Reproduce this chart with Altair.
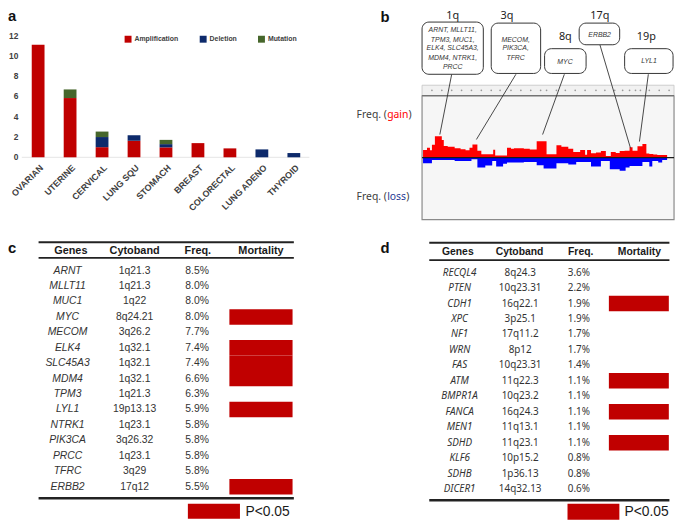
import altair as alt
import pandas as pd

# ---------------- panel a data ----------------
cancer_types = ['OVARIAN', 'UTERINE', 'CERVICAL', 'LUNG SQU', 'STOMACH', 'BREAST',
                'COLORECTAL', 'LUNG ADENO', 'THYROID']
amplification = [11.1, 5.85, 1.0, 1.63, 0.98, 1.4, 0.88, 0.0, 0.0]
deletion = [0.0, 0.0, 1.0, 0.55, 0.32, 0.0, 0.0, 0.78, 0.42]
mutation = [0.0, 0.85, 0.54, 0.0, 0.42, 0.0, 0.0, 0.0, 0.0]
alteration_types = ['Amplification', 'Deletion', 'Mutation']
alteration_colors = ['#C00000', '#0D2A6B', '#46662B']
count_ticks = [0, 2, 4, 6, 8, 10, 12]

# ---------------- panel b data (genome bin index, frequency %) ----------------
gain_start = [1, 5, 8, 10, 13, 20, 22, 26, 33, 39, 44, 48, 51, 56, 60, 72, 74, 86, 90, 93,
              103, 109, 116, 126, 136, 141, 148, 153, 160, 165, 167, 171, 176, 181, 186, 191,
              196, 200, 205, 210, 213, 218, 223, 227, 230, 234, 238]
gain_freq = [3.7, 4.8, 3.6, 6.2, 10.4, 8.6, 5.7, 5.3, 4.5, 4.1, 3.6, 4.8, 6.4, 3.3, 1.6, 3.8,
             1.1, 4.8, 4.3, 4.5, 4.3, 4.0, 7.9, 1.6, 6.0, 5.3, 4.3, 2.7, 3.7, 1.4, 3.7, 2.1,
             2.5, 3.2, 0.8, 2.7, 2.2, 3.2, 3.4, 5.0, 3.4, 5.5, 6.6, 2.0, 1.8, 1.5, 1.3]
loss_start = [1, 10, 33, 50, 56, 64, 71, 75, 82, 86, 103, 116, 123, 136, 148, 156, 171, 181,
              190, 200, 206, 210, 223, 230, 233, 239, 243]
loss_freq = [2.7, 1.1, 1.6, 0.8, 4.8, 3.8, 1.6, 4.3, 2.9, 2.4, 2.1, 3.7, 5.3, 2.7, 3.3, 2.1,
             4.3, 1.6, 5.6, 6.4, 4.8, 4.0, 2.1, 4.3, 1.6, 2.4, 1.2]
profile_end = 248
chrom_ticks = [10, 20, 30, 40, 50, 60, 70, 79, 90, 100, 110, 120, 126, 136, 145, 155, 165,
               176, 185, 195, 203, 210, 216, 221, 230, 240, 250]

callout_arm = ['1q', '3q', '8q', '17q', '19p']
callout_x = [0, 70, 124, 159, 205]
callout_x2 = [62, 120, 166, 200, 254]
callout_y = [40.4, 40.8, 40.8, 54.7, 40.8]
callout_y2 = [65.7, 65.2, 52.8, 65.2, 52.8]
callout_label_x = [31, 86, 145, 180, 227]
callout_label_y = [68.6, 68.6, 58.5, 68.6, 58.5]
callout_text_x = [31, 94.7, 144.7, 179.7, 229.7]
callout_lines = [["ARNT, MLLT11,", "TPM3, MUC1,", "ELK4, SLC45A3,", "MDM4, NTRK1,", "PRCC"],
                 ["MECOM,", "PIK3CA,", "TFRC"], ["MYC"], ["ERBB2"], ["LYL1"]]
callout_line_y = [[61.7, 57.2, 52.9, 48.5, 44.0], [57.2, 52.9, 48.5], [46.1], [59.4], [46.9]]
pointer_from_x = [30, 95, 144, 180, 229]
pointer_from_y = [40.4, 40.4, 40.4, 54.7, 40.4]
pointer_to_x = [18, 55, 122, 211, 220]
pointer_to_y = [11.2, 8.8, 11.2, 4.5, 7.8]

# ---------------- panel c / d tables ----------------
columns = ['Genes', 'Cytoband', 'Freq.', 'Mortality']
c_genes = ['ARNT', 'MLLT11', 'MUC1', 'MYC', 'MECOM', 'ELK4', 'SLC45A3', 'MDM4', 'TPM3',
           'LYL1', 'NTRK1', 'PIK3CA', 'PRCC', 'TFRC', 'ERBB2']
c_bands = ['1q21.3', '1q21.3', '1q22', '8q24.21', '3q26.2', '1q32.1', '1q32.1', '1q32.1',
           '1q21.3', '19p13.13', '1q23.1', '3q26.32', '1q23.1', '3q29', '17q12']
c_freq = [8.5, 8.0, 8.0, 8.0, 7.7, 7.4, 7.4, 6.6, 6.3, 5.9, 5.8, 5.8, 5.8, 5.8, 5.5]
c_sig = [0, 0, 0, 1, 0, 1, 1, 1, 0, 1, 0, 0, 0, 0, 1]

d_genes = ['RECQL4', 'PTEN', 'CDH1', 'XPC', 'NF1', 'WRN', 'FAS', 'ATM', 'BMPR1A', 'FANCA',
           'MEN1', 'SDHD', 'KLF6', 'SDHB', 'DICER1']
d_bands = ['8q24.3', '10q23.31', '16q22.1', '3p25.1', '17q11.2', '8p12', '10q23.31',
           '11q22.3', '10q23.2', '16q24.3', '11q13.1', '11q23.1', '10p15.2', '1p36.13',
           '14q32.13']
d_freq = [3.6, 2.2, 1.9, 1.9, 1.7, 1.7, 1.4, 1.1, 1.1, 1.1, 1.1, 1.1, 0.8, 0.8, 0.6]
d_sig = [0, 0, 1, 0, 0, 0, 0, 1, 0, 1, 0, 1, 0, 0, 0]

ARIAL = 'Liberation Sans'
NOTO = 'Noto Sans'
NARROW = 'Liberation Sans Narrow, Liberation Sans'
RED = '#C00000'

layers = []

# =============== panel a ===============
xa = alt.Scale(type='band', domain=cancer_types, range=[7.85, 311.9],
               paddingInner=0.6, paddingOuter=0.5)
ya = alt.Scale(domain=[0, 12], range=[148, 25])

rows = []
for i, c in enumerate(cancer_types):
    for k, (t, v) in enumerate(zip(alteration_types, [amplification[i], deletion[i], mutation[i]])):
        if v > 0:
            rows.append({'cancer': c, 'type': t, 'value': v, 'ord': k})
bar_df = pd.DataFrame(rows)

layers.append(alt.Chart(pd.DataFrame({'v': [0]})).mark_rule(color='#e4e4e4', strokeWidth=1).encode(
    x=alt.value(14), x2=alt.value(305), y=alt.Y('v:Q', scale=ya, axis=None)))

layers.append(alt.Chart(bar_df).mark_bar().encode(
    x=alt.X('cancer:N', scale=xa, axis=None),
    y=alt.Y('value:Q', scale=ya, axis=None, stack='zero'),
    color=alt.Color('type:N', scale=alt.Scale(domain=alteration_types, range=alteration_colors),
                    legend=alt.Legend(orient='none', legendX=118, legendY=25, direction='horizontal',
                                      title=None, symbolType='square', symbolSize=49,
                                      symbolStrokeWidth=0, labelFont=ARIAL, labelFontSize=7,
                                      labelFontWeight='bold', labelColor='#404040',
                                      columnPadding=21, labelOffset=3, padding=0)),
    order=alt.Order('ord:Q', sort='ascending')))

layers.append(alt.Chart(pd.DataFrame({'v': count_ticks})).mark_text(
    align='right', baseline='middle', font=ARIAL, fontSize=8.5, fontWeight='bold', color='#404040').encode(
    x=alt.value(10.5), y=alt.Y('v:Q', scale=ya, axis=None), text='v:Q'))

layers.append(alt.Chart(pd.DataFrame({'cancer': cancer_types, 'base': [0] * 9})).mark_text(
    angle=315, align='right', baseline='middle', dx=-4, dy=9, font=ARIAL, fontSize=9,
    fontWeight='bold', color='#404040').encode(
    x=alt.X('cancer:N', scale=xa, axis=None, bandPosition=0.5),
    y=alt.Y('base:Q', scale=ya, axis=None), text='cancer:N'))

# =============== panel b ===============
xb = alt.Scale(domain=[0, 255], range=[419, 674])
yb = alt.Scale(domain=[-30, 30], range=[211, 85.7])


def bx(f):
    return alt.X(f, scale=xb, axis=None)


def by(f):
    return alt.Y(f, scale=yb, axis=None)


frame_df = pd.DataFrame({'x': [0], 'x2': [255], 'y': [-30], 'y2': [30]})
layers.append(alt.Chart(frame_df).mark_rect(fill='#f6f6f6', stroke='#8a8a8a', strokeWidth=1.2).encode(
    x=bx('x:Q'), x2='x2:Q', y=by('y:Q'), y2='y2:Q'))
band_df = pd.DataFrame({'x': [0], 'x2': [255], 'y': [30], 'y2': [35.1]})
layers.append(alt.Chart(band_df).mark_rect(fill='#f1f1f1', stroke='#c4c4c4', strokeWidth=0.8).encode(
    x=bx('x:Q'), x2='x2:Q', y=by('y:Q'), y2='y2:Q'))
layers.append(alt.Chart(pd.DataFrame({'x': chrom_ticks, 'y': [32.6] * len(chrom_ticks)})).mark_point(
    filled=True, size=3, color='#9a9a9a', opacity=1).encode(x=bx('x:Q'), y=by('y:Q')))
layers.append(alt.Chart(pd.DataFrame({'x': [0], 'x2': [255], 'y': [30]})).mark_rule(
    color='#555555', strokeWidth=1.2).encode(x=bx('x:Q'), x2='x2:Q', y=by('y:Q')))

gain_df = pd.DataFrame({'x': gain_start + [profile_end], 'v': gain_freq + [gain_freq[-1]]})
loss_df = pd.DataFrame({'x': loss_start + [profile_end], 'v': [-v for v in loss_freq] + [-loss_freq[-1]]})
layers.append(alt.Chart(gain_df).mark_area(interpolate='step-after', color='#FF0000').encode(
    x=bx('x:Q'), y=by('v:Q'), y2=alt.datum(0)))
layers.append(alt.Chart(loss_df).mark_area(interpolate='step-after', color='#0000FF').encode(
    x=bx('x:Q'), y=by('v:Q'), y2=alt.datum(0)))
layers.append(alt.Chart(pd.DataFrame({'x': [0], 'x2': [255], 'y': [0]})).mark_rule(
    color='#1a1a1a', strokeWidth=1.2).encode(x=bx('x:Q'), x2='x2:Q', y=by('y:Q')))

# pointers
ptr_df = pd.DataFrame({'x': pointer_from_x, 'y': pointer_from_y, 'x2': pointer_to_x, 'y2': pointer_to_y})
layers.append(alt.Chart(ptr_df).mark_rule(color='#333333', strokeWidth=0.9).encode(
    x=bx('x:Q'), y=by('y:Q'), x2='x2:Q', y2='y2:Q'))
# boxes
box_df = pd.DataFrame({'x': callout_x, 'x2': callout_x2, 'y': callout_y, 'y2': callout_y2})
layers.append(alt.Chart(box_df).mark_rect(fill='white', stroke='#333333', strokeWidth=1,
                                          cornerRadius=7).encode(
    x=bx('x:Q'), x2='x2:Q', y=by('y:Q'), y2='y2:Q'))
layers.append(alt.Chart(pd.DataFrame({'x': callout_label_x, 'y': callout_label_y, 't': callout_arm})).mark_text(
    font=NOTO, fontSize=11, color='#222222', baseline='middle').encode(
    x=bx('x:Q'), y=by('y:Q'), text='t:N'))
gl = []
for i in range(len(callout_arm)):
    for t, yv in zip(callout_lines[i], callout_line_y[i]):
        gl.append({'x': callout_text_x[i], 'y': yv, 't': t})
layers.append(alt.Chart(pd.DataFrame(gl)).mark_text(
    font=NARROW, fontSize=7, fontStyle='italic', color='#333333', baseline='middle').encode(
    x=bx('x:Q'), y=by('y:Q'), text='t:N'))

# side labels
side_df = pd.DataFrame({
    't': ['Freq. (', 'gain', ')', 'Freq. (', 'loss', ')'],
    'x': [-35.6, -35.3, -13.6, -35.6, -35.3, -16.0],
    'y': [20.6, 20.6, 20.6, -19.3, -19.3, -19.3],
    'a': ['right', 'left', 'left', 'right', 'left', 'left'],
    'c': ['#404040', '#FF0000', '#404040', '#404040', '#1F3A93', '#404040']})
for al in ['right', 'left']:
    layers.append(alt.Chart(side_df[side_df.a == al]).mark_text(
        font=NOTO, fontSize=10.5, baseline='middle', align=al).encode(
        x=bx('x:Q'), y=by('y:Q'), text='t:N', color=alt.Color('c:N', scale=None)))


# =============== tables ===============
def table(genes, bands, freqs, sig, xrange, yrange, col_x, head_x, head_y, top_y, under_y,
          bottom_y, left, right, mort_x, leg_x, leg_y, leg_tx, leg_ty, body_font, body_size,
          head_size):
    xs = alt.Scale(domain=[0, 3], range=xrange)
    ys = alt.Scale(domain=[0, 14], range=yrange)
    X = lambda f: alt.X(f, scale=xs, axis=None)
    Y = lambda f: alt.Y(f, scale=ys, axis=None)
    out = []
    n = len(genes)
    # mortality bars
    sig_rows = [i for i in range(n) if sig[i]]
    out.append(alt.Chart(pd.DataFrame({'x': [mort_x[0]] * len(sig_rows), 'x2': [mort_x[1]] * len(sig_rows),
                                       'y': [r - 0.5 for r in sig_rows], 'y2': [r + 0.5 for r in sig_rows]}))
               .mark_rect(color=RED).encode(x=X('x:Q'), x2='x2:Q', y=Y('y:Q'), y2='y2:Q'))
    # lines
    lines = pd.DataFrame({'x': [left] * 3, 'x2': [right] * 3, 'y': [top_y, under_y, bottom_y],
                          'w': [2.0, 1.8, 2.6]})
    for _, r in lines.iterrows():
        out.append(alt.Chart(pd.DataFrame([r])).mark_rule(color='#222222', strokeWidth=float(r.w)).encode(
            x=X('x:Q'), x2='x2:Q', y=Y('y:Q')))
    # header
    out.append(alt.Chart(pd.DataFrame({'x': head_x, 'y': [head_y] * 4, 't': columns})).mark_text(
        font=ARIAL, fontSize=head_size, fontWeight='bold', color='#1a1a1a', baseline='middle').encode(
        x=X('x:Q'), y=Y('y:Q'), text='t:N'))
    # body
    rows = list(range(n))
    out.append(alt.Chart(pd.DataFrame({'x': [col_x[0]] * n, 'y': rows, 't': genes})).mark_text(
        font=body_font, fontSize=body_size, fontStyle='italic', color='#333333', baseline='middle').encode(
        x=X('x:Q'), y=Y('y:Q'), text='t:N'))
    out.append(alt.Chart(pd.DataFrame({'x': [col_x[1]] * n, 'y': rows, 't': bands})).mark_text(
        font=body_font, fontSize=body_size, color='#333333', baseline='middle').encode(
        x=X('x:Q'), y=Y('y:Q'), text='t:N'))
    out.append(alt.Chart(pd.DataFrame({'x': [col_x[2]] * n, 'y': rows,
                                       't': [f'{v:.1f}%' for v in freqs]})).mark_text(
        font=body_font, fontSize=body_size, color='#333333', baseline='middle').encode(
        x=X('x:Q'), y=Y('y:Q'), text='t:N'))
    # legend
    out.append(alt.Chart(pd.DataFrame({'x': [leg_x[0]], 'x2': [leg_x[1]], 'y': [leg_y[0]], 'y2': [leg_y[1]]}))
               .mark_rect(color=RED).encode(x=X('x:Q'), x2='x2:Q', y=Y('y:Q'), y2='y2:Q'))
    out.append(alt.Chart(pd.DataFrame({'x': [leg_tx], 'y': [leg_ty], 't': ['P<0.05']})).mark_text(
        font=ARIAL, fontSize=14, color='#1a1a1a', align='left', baseline='middle').encode(
        x=X('x:Q'), y=Y('y:Q'), text='t:N'))
    return out


layers += table(c_genes, c_bands, c_freq, c_sig, [60.3, 256.0], [262.7, 481.3],
                [0, 1.04, 2.01], [0.05, 1.04, 2.02, 3.0], -1.28, -1.84, -0.83, 14.75,
                -0.45, 3.51, [2.51, 3.49], [1.866, 2.674], [15.11, 16.08], 2.76, 15.65,
                ARIAL, 10.5, 11)
layers += table(d_genes, d_bands, d_freq, d_sig, [457.0, 639.0], [264.7, 483.7],
                [0, 1.01, 1.99], [-0.03, 1.0, 2.02, 3.0], -1.34, -1.93, -0.81, 14.72,
                -0.506, 3.50, [2.49, 3.49], [1.80, 2.665], [14.96, 15.98], 2.75, 15.52,
                NOTO, 10, 10.5)

# panel letters
letters = pd.DataFrame({'t': ['a', 'b', 'c', 'd'], 'x': [0, 377, 0, 377], 'y': [10, 11, 245, 245]})
for _, r in letters.iterrows():
    layers.append(alt.Chart(pd.DataFrame({'t': [r.t]})).mark_text(
        font=ARIAL, fontSize=15, fontWeight='bold', color='#111111', align='left',
        baseline='alphabetic').encode(x=alt.value(float(r.x)), y=alt.value(float(r.y)), text='t:N'))

chart = alt.layer(*layers).properties(
    width=677, height=516, padding=0, autosize=alt.AutoSizeParams(type='none')
).resolve_scale(x='independent', y='independent', color='independent').configure_view(stroke=None)

chart.save("out.html", embed_options={"renderer": "svg", "actions": False})
